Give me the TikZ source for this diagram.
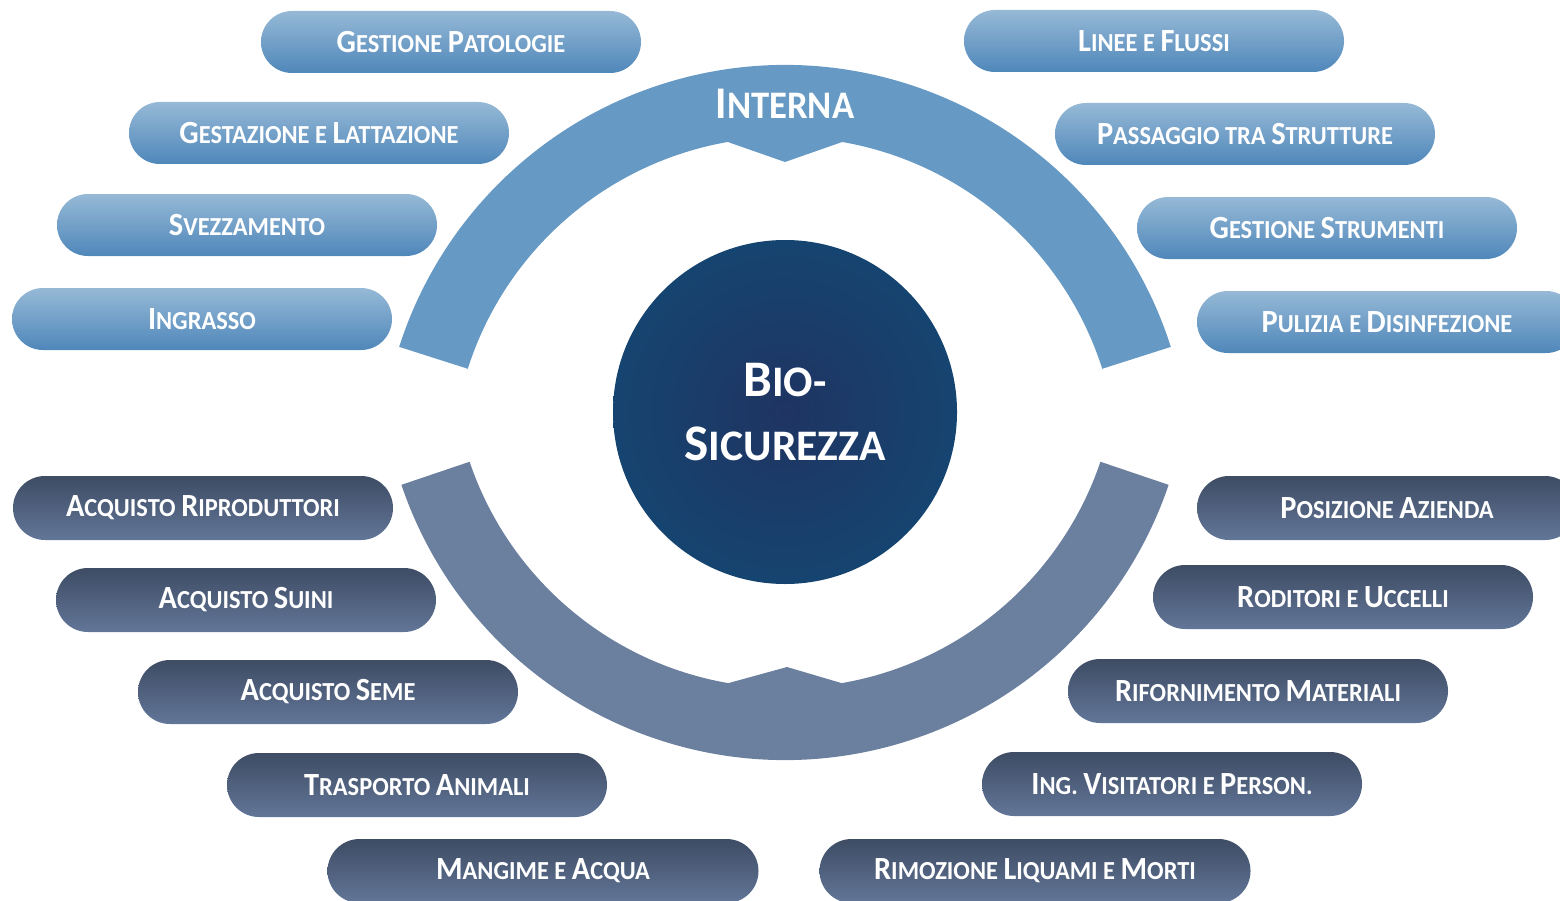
\documentclass[tikz,border=0pt]{standalone}
\usepackage{fontspec}
\setmainfont{Carlito}
\newfontfamily\pillfont[FakeStretch=0.94]{Carlito}
\usetikzlibrary{calc}
\definecolor{arcU}{RGB}{102,153,196}
\definecolor{arcL}{RGB}{107,128,158}
\definecolor{pTopU}{RGB}{150,185,214}
\definecolor{pBotU}{RGB}{79,135,186}
\definecolor{pTopL}{RGB}{62,76,100}
\definecolor{pBotL}{RGB}{98,118,152}
\definecolor{bioIn}{RGB}{31,52,98}
\definecolor{bioOut}{RGB}{22,68,112}
\newcommand\Bp[1]{{\fontsize{9.2}{9}\selectfont #1}}
\newcommand\Ba[1]{{\fontsize{12.9}{14}\selectfont #1}}
\newcommand\Bc[1]{{\fontsize{14.6}{18}\selectfont #1}}
\tikzset{
  pill/.style={rectangle, rounded corners=0.31cm, minimum width=3.8cm,
    minimum height=0.62cm, inner sep=0pt, text=white,
    font=\pillfont\bfseries\fontsize{7.4}{8}\selectfont},
  upill/.style={pill, top color=pTopU, bottom color=pBotU},
  lpill/.style={pill, minimum height=0.64cm, rounded corners=0.32cm,
    top color=pTopL, bottom color=pBotL},
  widepill/.style={minimum width=4.31cm},
  arclabel/.style={text=white, inner sep=0pt,
    font=\pillfont\bfseries\fontsize{11.1}{12}\selectfont},
}
\begin{document}
\begin{tikzpicture}
\useasboundingbox (0,0) rectangle (15.6,9);
\clip (0,0) rectangle (15.6,9);

% upper arc (Interna)
\coordinate (cu) at (7.85,4.30);
\fill[arcU] ($(cu)+(17.7:4.05)$) arc[start angle=17.7,end angle=162.3,radius=4.05]
  -- ($(cu)+(162.3:3.33)$) arc[start angle=162.3,end angle=99.9,radius=3.33]
  -- (7.85,7.38) -- ($(cu)+(80.1:3.33)$) arc[start angle=80.1,end angle=17.7,radius=3.33]
  -- cycle;
% lower arc (Esterna)
\coordinate (cl) at (7.85,5.45);
\fill[arcL] ($(cl)+(198.7:4.05)$) arc[start angle=198.7,end angle=341.3,radius=4.05]
  -- ($(cl)+(341.3:3.33)$) arc[start angle=341.3,end angle=279.8,radius=3.33]
  -- (7.87,2.33) -- ($(cl)+(260.2:3.33)$) arc[start angle=260.2,end angle=198.7,radius=3.33]
  -- cycle;

\node[arclabel] (interna) at (7.85,7.96) {\Ba{I}NTERNA};
\node[arclabel] (esterna) at (7.90,2.73) {\Ba{E}STERNA};

% centre
\node[circle, minimum size=3.44cm, inner sep=0pt, inner color=bioIn, outer color=bioOut,
  text=white, align=center, font=\bfseries\fontsize{12.4}{18.2}\selectfont]
  (bio) at (7.85,4.88) {\Bc{B}IO-\\\Bc{S}ICUREZZA};

% upper left
\node[upill] (gp) at (4.51,8.58) {\Bp{G}ESTIONE \Bp{P}ATOLOGIE};
\node[upill] (gl) at (3.19,7.67) {\Bp{G}ESTAZIONE E \Bp{L}ATTAZIONE};
\node[upill] (sv) at (2.47,6.75) {\Bp{S}VEZZAMENTO};
\node[upill] (ig) at (2.02,5.81) {\Bp{I}NGRASSO};
% upper right
\node[upill] (lf) at (11.54,8.59) {\Bp{L}INEE E \Bp{F}LUSSI};
\node[upill] (ps) at (12.45,7.66) {\Bp{P}ASSAGGIO TRA \Bp{S}TRUTTURE};
\node[upill] (gs) at (13.27,6.72) {\Bp{G}ESTIONE \Bp{S}TRUMENTI};
\node[upill] (pd) at (13.87,5.78) {\Bp{P}ULIZIA E \Bp{D}ISINFEZIONE};
% lower left
\node[lpill] (ar) at (2.03,3.92) {\Bp{A}CQUISTO \Bp{R}IPRODUTTORI};
\node[lpill] (asu) at (2.46,3.00) {\Bp{A}CQUISTO \Bp{S}UINI};
\node[lpill] (ase) at (3.28,2.08) {\Bp{A}CQUISTO \Bp{S}EME};
\node[lpill] (ta) at (4.17,1.15) {\Bp{T}RASPORTO \Bp{A}NIMALI};
\node[lpill, widepill] (ma) at (5.43,0.29) {\Bp{M}ANGIME E \Bp{A}CQUA};
% lower right
\node[lpill] (pa) at (13.87,3.92) {\Bp{P}OSIZIONE \Bp{A}ZIENDA};
\node[lpill] (ru) at (13.43,3.03) {\Bp{R}ODITORI E \Bp{U}CCELLI};
\node[lpill] (rm) at (12.58,2.09) {\Bp{R}IFORNIMENTO \Bp{M}ATERIALI};
\node[lpill] (iv) at (11.72,1.16) {\Bp{I}NG. \Bp{V}ISITATORI E \Bp{P}ERSON.};
\node[lpill, widepill] (rl) at (10.35,0.29) {\Bp{R}IMOZIONE \Bp{L}IQUAMI E \Bp{M}ORTI};
\end{tikzpicture}
\end{document}
